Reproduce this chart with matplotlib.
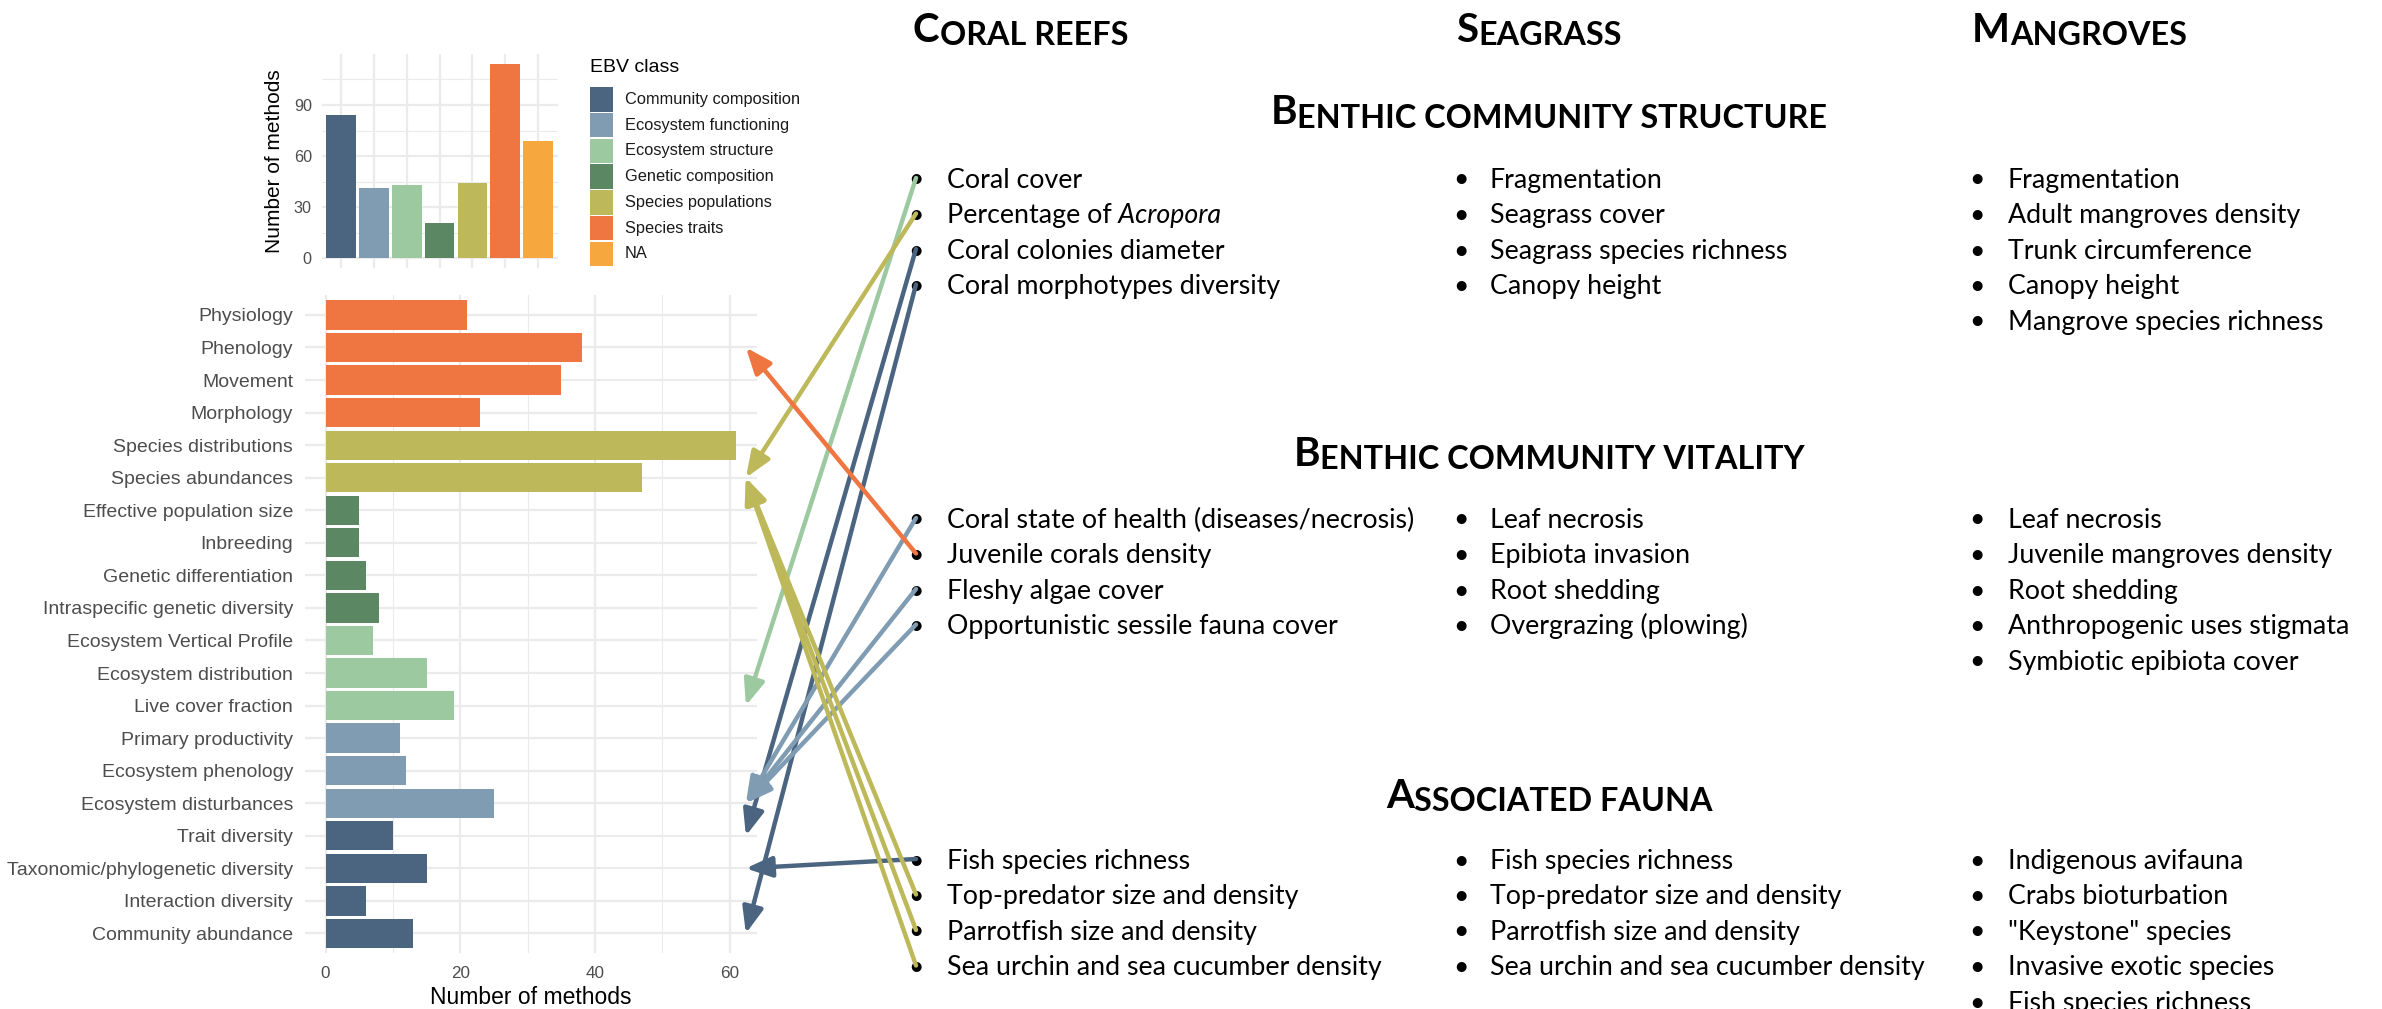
import matplotlib
matplotlib.use("Agg")
import matplotlib.pyplot as plt
import numpy as np
from matplotlib.patches import Rectangle, ConnectionPatch

# ---- data -------------------------------------------------------------
ebv_classes = ["Community composition", "Ecosystem functioning", "Ecosystem structure",
               "Genetic composition", "Species populations", "Species traits", "NA"]
class_counts = [84, 41, 43, 21, 44, 114, 69]
class_colors = ["#4b6580", "#7f9cb3", "#9dc9a1", "#5b8862", "#bdb85a", "#ef7541", "#f6a83f"]

ebv_names = ["Physiology", "Phenology", "Movement", "Morphology",
             "Species distributions", "Species abundances",
             "Effective population size", "Inbreeding", "Genetic differentiation",
             "Intraspecific genetic diversity",
             "Ecosystem Vertical Profile", "Ecosystem distribution", "Live cover fraction",
             "Primary productivity", "Ecosystem phenology", "Ecosystem disturbances",
             "Trait diversity", "Taxonomic/phylogenetic diversity", "Interaction diversity",
             "Community abundance"]
ebv_methods = [21, 38, 35, 23, 61, 47, 5, 5, 6, 8, 7, 15, 19, 11, 12, 25, 10, 15, 6, 13]
ebv_class_of = (["Species traits"] * 4 + ["Species populations"] * 2 +
                ["Genetic composition"] * 4 + ["Ecosystem structure"] * 3 +
                ["Ecosystem functioning"] * 3 + ["Community composition"] * 4)

habitats = ["Coral reefs", "Seagrass", "Mangroves"]
sections = ["Benthic community structure", "Benthic community vitality", "Associated fauna"]

coral_items = [
    ["Coral cover", "Percentage of Acropora", "Coral colonies diameter", "Coral morphotypes diversity"],
    ["Coral state of health (diseases/necrosis)", "Juvenile corals density", "Fleshy algae cover",
     "Opportunistic sessile fauna cover"],
    ["Fish species richness", "Top-predator size and density", "Parrotfish size and density",
     "Sea urchin and sea cucumber density"],
]
seagrass_items = [
    ["Fragmentation", "Seagrass cover", "Seagrass species richness", "Canopy height"],
    ["Leaf necrosis", "Epibiota invasion", "Root shedding", "Overgrazing (plowing)"],
    ["Fish species richness", "Top-predator size and density", "Parrotfish size and density",
     "Sea urchin and sea cucumber density"],
]
mangrove_items = [
    ["Fragmentation", "Adult mangroves density", "Trunk circumference", "Canopy height",
     "Mangrove species richness"],
    ["Leaf necrosis", "Juvenile mangroves density", "Root shedding", "Anthropogenic uses stigmata",
     "Symbiotic epibiota cover"],
    ["Indigenous avifauna", "Crabs bioturbation", "\"Keystone\" species", "Invasive exotic species",
     "Fish species richness"],
]
italic_words = ["Acropora"]

# coral reef indicator -> EBV it is linked to
links = [
    ("Coral cover", "Live cover fraction"),
    ("Percentage of Acropora", "Species abundances"),
    ("Coral colonies diameter", "Trait diversity"),
    ("Coral morphotypes diversity", "Community abundance"),
    ("Coral state of health (diseases/necrosis)", "Ecosystem disturbances"),
    ("Juvenile corals density", "Phenology"),
    ("Fleshy algae cover", "Ecosystem disturbances"),
    ("Opportunistic sessile fauna cover", "Ecosystem disturbances"),
    ("Fish species richness", "Taxonomic/phylogenetic diversity"),
    ("Top-predator size and density", "Species abundances"),
    ("Parrotfish size and density", "Species abundances"),
    ("Sea urchin and sea cucumber density", "Species abundances"),
]

# ---- figure -----------------------------------------------------------
W, H, DPI = 2382, 1009, 100
fig = plt.figure(figsize=(W / DPI, H / DPI), dpi=DPI)
fig.patch.set_facecolor("white")
CHART_FONT = ["Liberation Sans", "DejaVu Sans"]
TEXT_FONT = ["Lato", "DejaVu Sans"]
plt.rcParams["font.family"] = CHART_FONT
GRID = "#ebebeb"
TICKC = "#4d4d4d"
cmap = dict(zip(ebv_classes, class_colors))


def px_axes(left, top, right, bottom):
    return fig.add_axes([left / W, 1 - bottom / H, (right - left) / W, (bottom - top) / H])


def minimal(ax):
    for s in ax.spines.values():
        s.set_visible(False)
    ax.tick_params(length=0, colors=TICKC, which="both")
    ax.set_axisbelow(True)


# top chart: methods per EBV class
ax1 = px_axes(321.5, 54.4, 557.7, 268)
xs = np.arange(1, len(ebv_classes) + 1)
ax1.bar(xs, class_counts, width=0.9, color=class_colors)
ax1.set_xlim(0.4, len(xs) + 0.6)
ax1.set_ylim(-0.05 * max(class_counts), 1.05 * max(class_counts))
ax1.set_yticks([0, 30, 60, 90])
ax1.set_yticks([15, 45, 75, 105], minor=True)
ax1.set_xticks(xs)
ax1.set_xticklabels([])
ax1.grid(True, which="major", color=GRID, lw=1.6)
ax1.grid(True, which="minor", axis="y", color=GRID, lw=0.8)
minimal(ax1)
ax1.tick_params(axis="y", labelsize=11.7, pad=7)
ax1.set_ylabel("Number of methods", fontsize=15, color="black")
ax1.yaxis.set_label_coords(-0.197, 0.5)
ax1.yaxis.label.set_va("center")

# bottom chart: methods per EBV
ax2 = px_axes(305, 295.4, 757, 953)
ys = np.arange(len(ebv_names))
ax2.barh(ys, ebv_methods, height=0.9, color=[cmap[c] for c in ebv_class_of])
ax2.set_ylim(len(ys) - 0.4, -0.6)
ax2.set_xlim(-0.05 * max(ebv_methods), 1.05 * max(ebv_methods))
ax2.set_yticks(ys)
ax2.set_yticklabels(ebv_names)
ax2.set_xticks([0, 20, 40, 60])
ax2.set_xticks([10, 30, 50], minor=True)
ax2.grid(True, which="major", color=GRID, lw=1.6)
ax2.grid(True, which="minor", axis="x", color=GRID, lw=0.8)
minimal(ax2)
ax2.tick_params(axis="y", labelsize=14, pad=8.6)
ax2.tick_params(axis="x", labelsize=12.3, pad=9)
ax2.set_xlabel("Number of methods", fontsize=16.5, color="black")
ax2.xaxis.set_label_coords(0.5, -0.068)
ax2.xaxis.label.set_va("center")

# overlay in reference pixel coordinates (y from top)
ov = fig.add_axes([0, 0, 1, 1])
ov.set_xlim(0, W)
ov.set_ylim(H, 0)
ov.axis("off")

# legend
ov.text(590, 67, "EBV class", fontsize=14, va="center", ha="left", color="black")
for i, (lab, col) in enumerate(zip(ebv_classes, class_colors)):
    yc = 99.5 + 25.7 * i
    ov.add_patch(Rectangle((590, yc - 12.2), 23, 24.4, color=col, lw=0))
    ov.text(625, yc, lab, fontsize=11.8, va="center", ha="left", color="#1a1a1a")

# ---- text panel -------------------------------------------------------
LIST_FS = 19.3
BASE_OFF = 0.36 * LIST_FS * DPI / 72  # centre of capitals -> baseline
HEAD_BIG, HEAD_SMALL = 29, 23.3


def smallcaps(x, y, text, center=False):
    t0 = ov.text(x, y + 0.36 * HEAD_BIG * DPI / 72, text[0].upper(), fontsize=HEAD_BIG,
                 fontweight="bold", family=TEXT_FONT, ha="left", va="baseline")
    t1 = ov.annotate(text[1:].upper(), xy=(1, 0), xycoords=t0,
                     xytext=(0, -(HEAD_BIG - HEAD_SMALL) * 0.2), textcoords="offset points",
                     fontsize=HEAD_SMALL, fontweight="bold", family=TEXT_FONT,
                     ha="left", va="bottom")
    return (t0, t1, x) if center else None


def item(x, y, text):
    yb = y + BASE_OFF
    it = [w for w in italic_words if w in text]
    if not it:
        ov.text(x, yb, text, fontsize=LIST_FS, family=TEXT_FONT, ha="left", va="baseline")
        return
    head = text.split(it[0])[0].rstrip()
    t0 = ov.text(x, yb, head, fontsize=LIST_FS, family=TEXT_FONT, ha="left", va="baseline")
    ov.annotate(" " + it[0], xy=(1, 0), xycoords=t0, fontsize=LIST_FS, family=TEXT_FONT,
                style="italic", ha="left", va="bottom")


# column headers
for name, x in zip(habitats, [913, 1456, 1972]):
    smallcaps(x, 27, name)

# section headers (centred)
centred = [smallcaps(1549, y, s, center=True) for s, y in zip(sections, [110, 451, 793])]

sec_top = [178, 518, 859]
step = 35.5
columns = [(coral_items, 916, 947), (seagrass_items, 1461, 1490), (mangrove_items, 1977, 2008)]
bullet_pos = {}
for items, bx, tx in columns:
    for s, lst in enumerate(items):
        for k, txt in enumerate(lst):
            y = sec_top[s] + step * k
            ov.text(bx, y + 2, "\u2022", fontsize=LIST_FS, family=TEXT_FONT,
                    ha="center", va="center")
            item(tx, y, txt)
            if items is coral_items:
                bullet_pos[txt] = (bx, y)

# arrows from coral reef indicators to EBVs
tip_x = 62.4
for src, ebv in links:
    col = cmap[ebv_class_of[ebv_names.index(ebv)]]
    con = ConnectionPatch(xyA=bullet_pos[src], coordsA=ov.transData,
                          xyB=(tip_x, ebv_names.index(ebv)), coordsB=ax2.transData,
                          arrowstyle="-|>,head_length=0.75,head_width=0.3",
                          mutation_scale=21, color=col, lw=3.2,
                          shrinkA=0, shrinkB=0, zorder=5)
    fig.add_artist(con)

# centre the section headers
fig.canvas.draw()
r = fig.canvas.get_renderer()
for t0, t1, xc in centred:
    b0 = t0.get_window_extent(r)
    b1 = t1.get_window_extent(r)
    width = b1.x1 - b0.x0
    t0.set_x(xc - width / 2)

fig.savefig("out.png", dpi=DPI, facecolor="white")
